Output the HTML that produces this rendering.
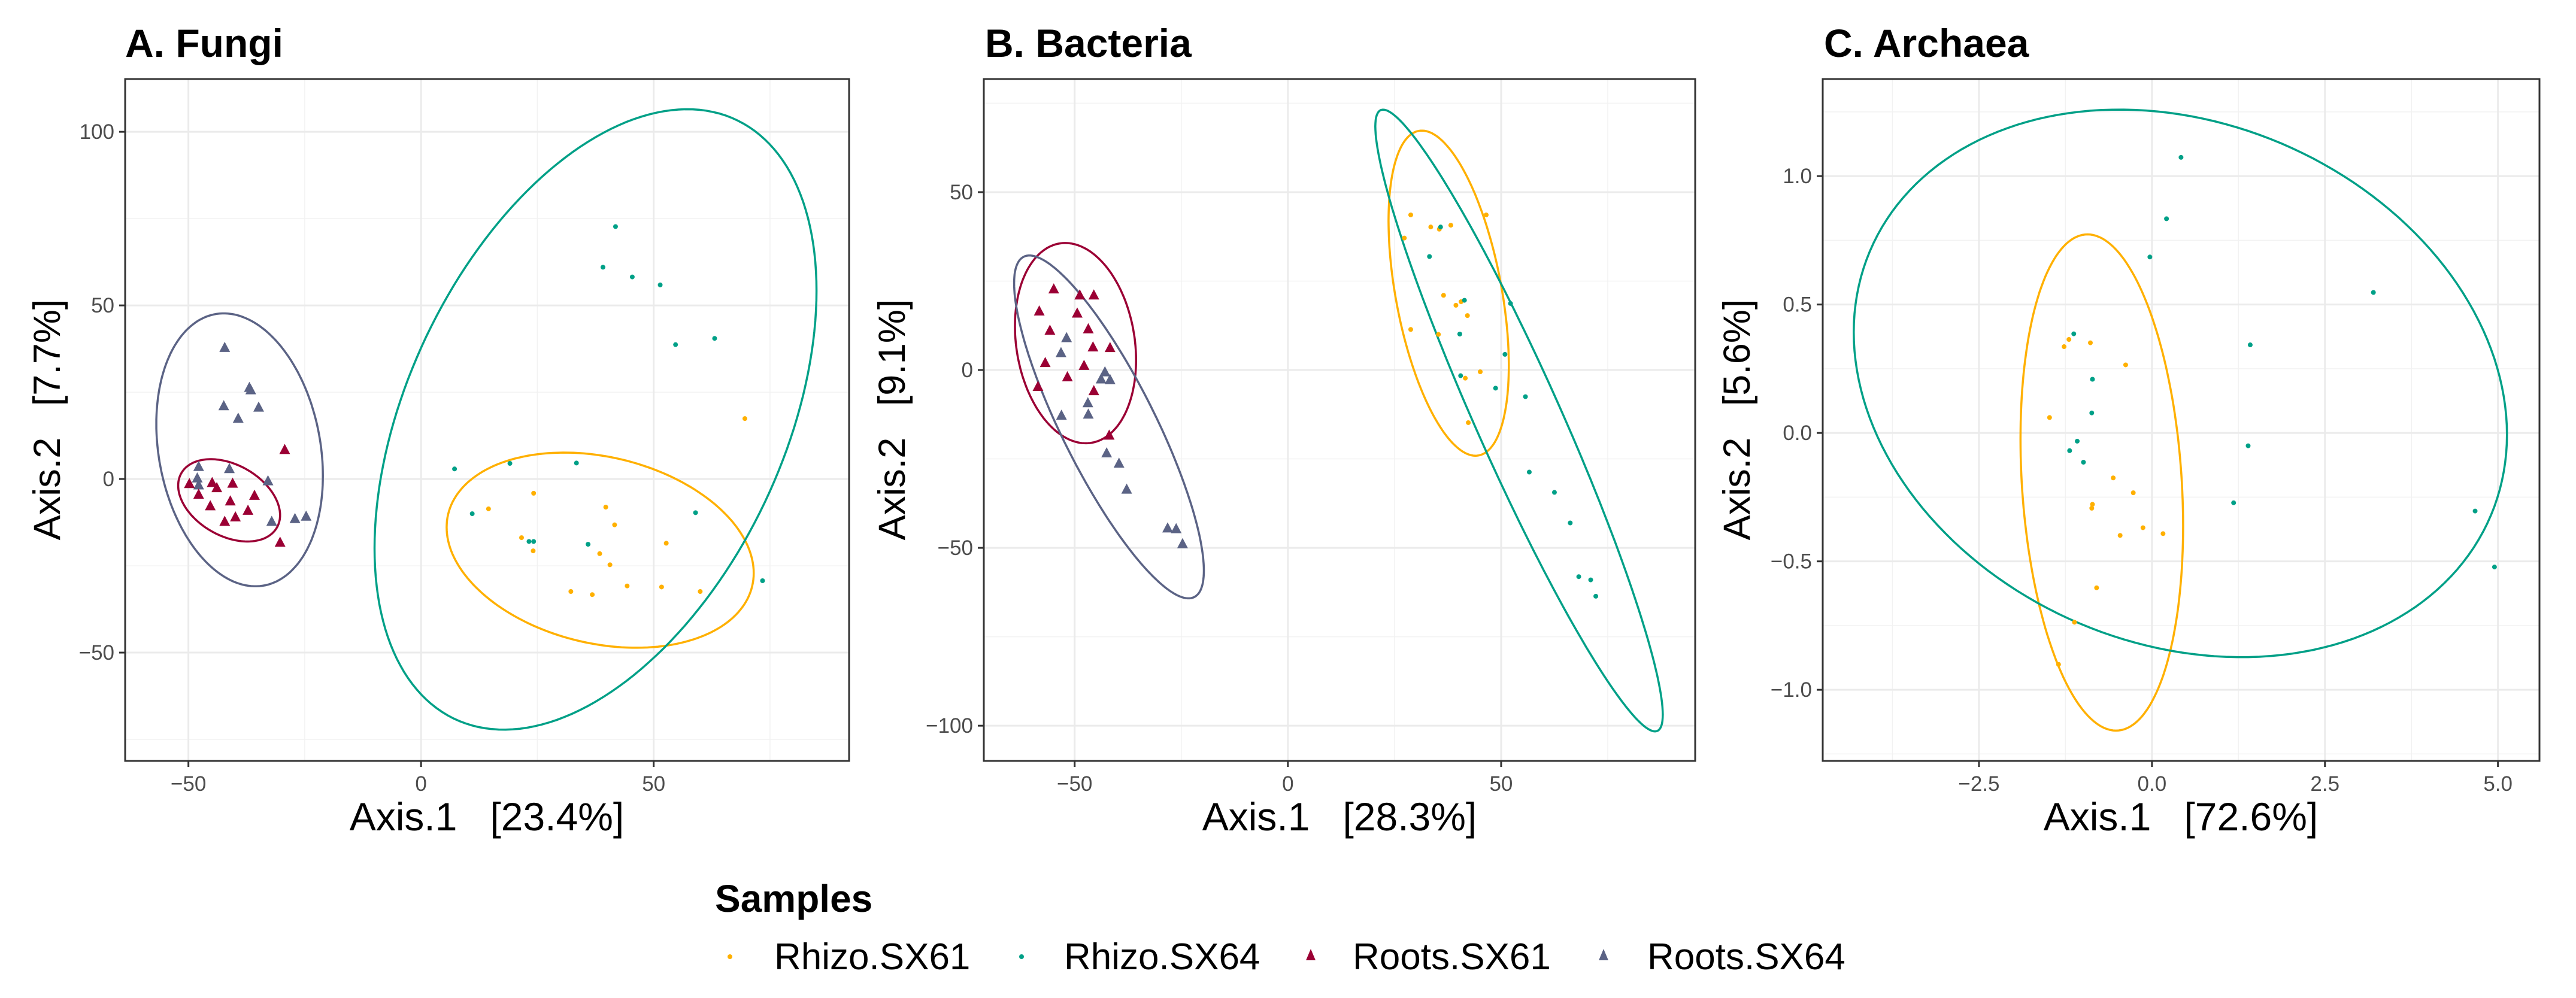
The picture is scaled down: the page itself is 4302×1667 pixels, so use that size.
<!DOCTYPE html>
<html><head><meta charset="utf-8">
<style>
html,body{margin:0;padding:0;background:#fff;}
svg{display:block;font-family:"Liberation Sans",Arial,sans-serif;}
</style></head>
<body>
<svg id="fig" width="4302" height="1667" viewBox="0 0 4302 1667" xmlns="http://www.w3.org/2000/svg">
<rect x="0" y="0" width="4302" height="1667" fill="#fff"/>
<g id="pA"></g>
<g id="pB"></g>
<g id="pC"></g>

<text x="209" y="95" font-size="66" font-weight="bold">A. Fungi</text>
<text x="1645" y="95" font-size="66" font-weight="bold">B. Bacteria</text>
<text x="3046" y="95" font-size="66" font-weight="bold">C. Archaea</text>

<text x="813" y="1387" font-size="66" text-anchor="middle" xml:space="preserve">Axis.1   [23.4%]</text>
<text x="2237" y="1387" font-size="66" text-anchor="middle" xml:space="preserve">Axis.1   [28.3%]</text>
<text x="3642" y="1387" font-size="66" text-anchor="middle" xml:space="preserve">Axis.1   [72.6%]</text>

<text transform="translate(100,701) rotate(-90)" font-size="63" text-anchor="middle" xml:space="preserve">Axis.2   [7.7%]</text>
<text transform="translate(1511,701) rotate(-90)" font-size="63" text-anchor="middle" xml:space="preserve">Axis.2   [9.1%]</text>
<text transform="translate(2922,701) rotate(-90)" font-size="63" text-anchor="middle" xml:space="preserve">Axis.2   [5.6%]</text>

<g>
<text x="1194" y="1523" font-size="64" font-weight="bold">Samples</text>
<g>
<circle cx="1219" cy="1598" r="4" fill="#FFB000"/>
<text x="1293" y="1619" font-size="62">Rhizo.SX61</text></g>
<g>
<circle cx="1706" cy="1598" r="4" fill="#00A087"/>
<text x="1777" y="1619" font-size="62">Rhizo.SX64</text></g>
<g>
<polygon points="2189,1585 2181,1604 2197,1604" fill="#9B0034"/>
<text x="2259" y="1619" font-size="62">Roots.SX61</text></g>
<g>
<polygon points="2678,1585 2670,1604 2686,1604" fill="#5B6385"/>
<text x="2751" y="1619" font-size="62">Roots.SX64</text></g>
</g>
</svg>
<script>
// ---------- Panel A: Fungi ----------
const fungiRhizo61X = [69.6,24.2,14.5,39.7,41.6,21.6,24.1,52.7,38.4,40.6,44.3,51.7,32.2,36.8,60.0];
const fungiRhizo61Y = [17.4,-4.1,-8.6,-8.1,-13.2,-16.9,-20.7,-18.5,-21.5,-24.7,-30.8,-31.1,-32.4,-33.3,-32.4];
const fungiRhizo64X = [41.8,39.1,45.4,51.4,63.1,54.7,7.2,19.1,33.4,11.0,59.0,23.2,24.2,35.9,73.4];
const fungiRhizo64Y = [72.7,61.0,58.2,55.9,40.5,38.7,2.9,4.5,4.6,-10.0,-9.7,-18.0,-18.0,-18.8,-29.3];
const fungiRoots61X = [-29.3,-49.8,-44.9,-43.9,-40.5,-47.8,-35.8,-41.0,-45.3,-37.2,-39.9,-42.2,-30.3];
const fungiRoots61Y = [8.4,-1.4,-1.1,-2.6,-1.3,-4.5,-4.8,-6.4,-7.8,-9.1,-11.0,-12.3,-18.3];
const fungiRoots64X = [-42.2,-36.9,-36.6,-42.4,-34.9,-39.3,-47.8,-41.2,-48.1,-32.9,-47.8,-32.1,-27.1,-24.7];
const fungiRoots64Y = [37.8,26.3,25.6,21.0,20.6,17.4,3.5,2.9,0.2,-0.6,-1.8,-12.3,-11.5,-10.8];
// ellipses: [cx, cy, halfWidth, halfHeight, cosPhi]
const fungiEllRhizo61 = [38.5,-20.5,33,28.1,-0.235];
const fungiEllRhizo64 = [37.5,17.15,47.5,89.35,0.415];
const fungiEllRoots61 = [-41.25,-6.15,10.95,11.85,-0.36];
const fungiEllRoots64 = [-39,8.4,17.9,39.3,-0.19];
const fungiXTicks = [-50,0,50];
const fungiXTickLabels = ["−50","0","50"];
const fungiYTicks = [-50,0,50,100];
const fungiYTickLabels = ["−50","0","50","100"];
const fungiXMinor = [-25,25,75];
const fungiYMinor = [-75,-25,25,75];

// ---------- Panel B: Bacteria ----------
const bactRhizo61X = [28.8,46.5,27.3,33.5,35.5,38.2,36.5,40.6,39.4,42.1,28.8,35.3,41.6,45.1,42.3];
const bactRhizo61Y = [43.6,43.6,37.1,40.2,39.6,40.7,21.0,19.2,18.2,15.3,11.4,10.0,-2.3,-0.5,-14.8];
const bactRhizo64X = [35.8,33.2,41.4,52.2,40.3,50.9,40.5,48.7,55.7,56.6,62.5,66.2,68.2,71.0,72.2];
const bactRhizo64Y = [40.2,31.9,19.6,18.7,10.1,4.4,-1.6,-5.1,-7.5,-28.7,-34.4,-43.0,-58.1,-59.0,-63.6];
const bactRoots61X = [-54.9,-48.8,-45.5,-58.3,-49.4,-55.8,-46.8,-45.7,-41.7,-56.9,-47.8,-51.7,-58.6,-45.5,-41.9];
const bactRoots61Y = [22.7,21.0,21.0,16.5,15.9,11.1,11.5,6.4,6.2,2.0,1.2,-2.0,-4.7,-5.9,-18.4];
const bactRoots64X = [-51.9,-53.2,-42.9,-43.8,-41.7,-46.9,-46.8,-53.1,-42.5,-39.6,-37.8,-28.2,-26.2,-24.7];
const bactRoots64Y = [9.0,4.8,-0.6,-2.6,-2.8,-9.3,-12.5,-12.8,-23.4,-26.3,-33.6,-44.5,-44.7,-48.9];
const bactEllRhizo61 = [37.7,21.6,14.1,45.7,-0.446];
const bactEllRhizo64 = [54.2,-14.2,33.7,87.4,-0.946];
const bactEllRoots61 = [-49.8,7.55,14.2,28.15,-0.169];
const bactEllRoots64 = [-41.95,-16,22.25,48.2,-0.838];
const bactXTicks = [-50,0,50];
const bactXTickLabels = ["−50","0","50"];
const bactYTicks = [-100,-50,0,50];
const bactYTickLabels = ["−100","−50","0","50"];
const bactXMinor = [-25,25,75];
const bactYMinor = [-75,-25,25,75];

// ---------- Panel C: Archaea ----------
const archRhizo61X = [-1.20,-1.27,-0.89,-0.38,-1.48,-0.56,-0.27,-0.86,-0.87,-0.13,-0.46,0.16,-0.80,-1.12,-1.35];
const archRhizo61Y = [0.364,0.336,0.351,0.265,0.060,-0.175,-0.233,-0.278,-0.293,-0.369,-0.399,-0.392,-0.603,-0.737,-0.901];
const archRhizo64X = [0.42,0.21,-0.03,3.20,-1.13,1.42,-0.86,-0.87,-1.08,-1.19,-0.99,1.39,1.18,4.67,4.95];
const archRhizo64Y = [1.073,0.834,0.685,0.547,0.386,0.343,0.209,0.078,-0.032,-0.069,-0.114,-0.050,-0.272,-0.304,-0.522];
const archEllRhizo61 = [-0.725,-0.193,1.175,0.966,-0.175];
const archEllRhizo64 = [0.41,0.193,4.72,1.066,-0.187];
const archXTicks = [-2.5,0,2.5,5];
const archXTickLabels = ["−2.5","0.0","2.5","5.0"];
const archYTicks = [-1,-0.5,0,0.5,1];
const archYTickLabels = ["−1.0","−0.5","0.0","0.5","1.0"];
const archXMinor = [-3.75,-1.25,1.25,3.75];
const archYMinor = [-1.25,-0.75,-0.25,0.25,0.75,1.25];

const COL = {r61:"#FFB000", r64:"#00A087", t61:"#9B0034", t64:"#5B6385"};
const NS = "http://www.w3.org/2000/svg";
function mk(tag, attrs, parent){
  const e = document.createElementNS(NS, tag);
  for (const k in attrs) e.setAttribute(k, attrs[k]);
  parent.appendChild(e);
  return e;
}
function panel(gid, box, dom, xt, xtl, yt, ytl, xm, ym, series, ells){
  const g = document.getElementById(gid);
  const [L,T,R,B] = box;
  const [x0,x1,y0,y1] = dom;
  const sx = v => L + (v - x0) / (x1 - x0) * (R - L);
  const sy = v => B - (v - y0) / (y1 - y0) * (B - T);
  mk("rect",{x:L,y:T,width:R-L,height:B-T,fill:"#fff"},g);
  xm.forEach(v=>{const l=mk("line",{x1:sx(v),x2:sx(v),y1:T,y2:B,stroke:"#f2f2f2","stroke-width":1.5},g);
    
    });
  ym.forEach(v=>{const l=mk("line",{x1:L,x2:R,y1:sy(v),y2:sy(v),stroke:"#f2f2f2","stroke-width":1.5},g);
    
    });
  xt.forEach((v,i)=>{
    const l=mk("line",{x1:sx(v),x2:sx(v),y1:T,y2:B,stroke:"#ebebeb","stroke-width":3},g);
    
    
    mk("line",{x1:sx(v),x2:sx(v),y1:B,y2:B+10,stroke:"#333","stroke-width":3},g);
    const t=mk("text",{x:sx(v),y:B+50,"font-size":35,fill:"#4d4d4d","text-anchor":"middle"},g);
    t.textContent = xtl[i];
    
    
  });
  yt.forEach((v,i)=>{
    const l=mk("line",{x1:L,x2:R,y1:sy(v),y2:sy(v),stroke:"#ebebeb","stroke-width":3},g);
    
    
    mk("line",{x1:L-10,x2:L,y1:sy(v),y2:sy(v),stroke:"#333","stroke-width":3},g);
    const t=mk("text",{x:L-18,y:sy(v)+12,"font-size":35,fill:"#4d4d4d","text-anchor":"end"},g);
    t.textContent = ytl[i];
    
    
  });
  ells.forEach(([p,col,name])=>{
    const [cx,cy,ax,ay,cphi] = p;
    const phi = Math.acos(Math.max(-1,Math.min(1,cphi)));
    let d = "";
    for (let k=0;k<=180;k++){
      const t = k/180*2*Math.PI;
      const X = sx(cx + ax*Math.cos(t)), Y = sy(cy + ay*Math.cos(t - phi));
      d += (k?"L":"M")+X.toFixed(1)+","+Y.toFixed(1);
    }
    const e = mk("path",{d:d+"Z",fill:"none",stroke:col,"stroke-width":3.5},g);
    
    
  });
  series.forEach(([xs,ys,col,shape,name])=>{
    xs.forEach((v,i)=>{
      const X = sx(v), Y = sy(ys[i]);
      let m;
      if (shape==="dot") m = mk("circle",{cx:X,cy:Y,r:4,fill:col},g);
      else m = mk("polygon",{points:`${X},${Y-10} ${X-9},${Y+7} ${X+9},${Y+7}`,fill:col},g);
      
      
    });
  });
  mk("rect",{x:L,y:T,width:R-L,height:B-T,fill:"none",stroke:"#333","stroke-width":3},g);
}
panel("pA",[209,132,1418,1271],[-63.6,92.0,-81.2,115.2],
  fungiXTicks,fungiXTickLabels,fungiYTicks,fungiYTickLabels,fungiXMinor,fungiYMinor,
  [[fungiRhizo61X,fungiRhizo61Y,COL.r61,"dot","point-rhizo-sx61"],
   [fungiRhizo64X,fungiRhizo64Y,COL.r64,"dot","point-rhizo-sx64"],
   [fungiRoots64X,fungiRoots64Y,COL.t64,"tri","point-roots-sx64"],
   [fungiRoots61X,fungiRoots61Y,COL.t61,"tri","point-roots-sx61"]],
  [[fungiEllRhizo61,COL.r61,"ellipse-rhizo-sx61"],[fungiEllRhizo64,COL.r64,"ellipse-rhizo-sx64"],
   [fungiEllRoots61,COL.t61,"ellipse-roots-sx61"],[fungiEllRoots64,COL.t64,"ellipse-roots-sx64"]]);
panel("pB",[1643,132,2831,1271],[-71.3,95.5,-109.9,81.8],
  bactXTicks,bactXTickLabels,bactYTicks,bactYTickLabels,bactXMinor,bactYMinor,
  [[bactRhizo61X,bactRhizo61Y,COL.r61,"dot","point-rhizo-sx61"],
   [bactRhizo64X,bactRhizo64Y,COL.r64,"dot","point-rhizo-sx64"],
   [bactRoots61X,bactRoots61Y,COL.t61,"tri","point-roots-sx61"],
   [bactRoots64X,bactRoots64Y,COL.t64,"tri","point-roots-sx64"]],
  [[bactEllRhizo61,COL.r61,"ellipse-rhizo-sx61"],[bactEllRhizo64,COL.r64,"ellipse-rhizo-sx64"],
   [bactEllRoots61,COL.t61,"ellipse-roots-sx61"],[bactEllRoots64,COL.t64,"ellipse-roots-sx64"]]);
panel("pC",[3044,132,4241,1271],[-4.758,5.6,-1.277,1.378],
  archXTicks,archXTickLabels,archYTicks,archYTickLabels,archXMinor,archYMinor,
  [[archRhizo61X,archRhizo61Y,COL.r61,"dot","point-rhizo-sx61"],
   [archRhizo64X,archRhizo64Y,COL.r64,"dot","point-rhizo-sx64"]],
  [[archEllRhizo61,COL.r61,"ellipse-rhizo-sx61"],[archEllRhizo64,COL.r64,"ellipse-rhizo-sx64"]]);
</script>
</body></html>
